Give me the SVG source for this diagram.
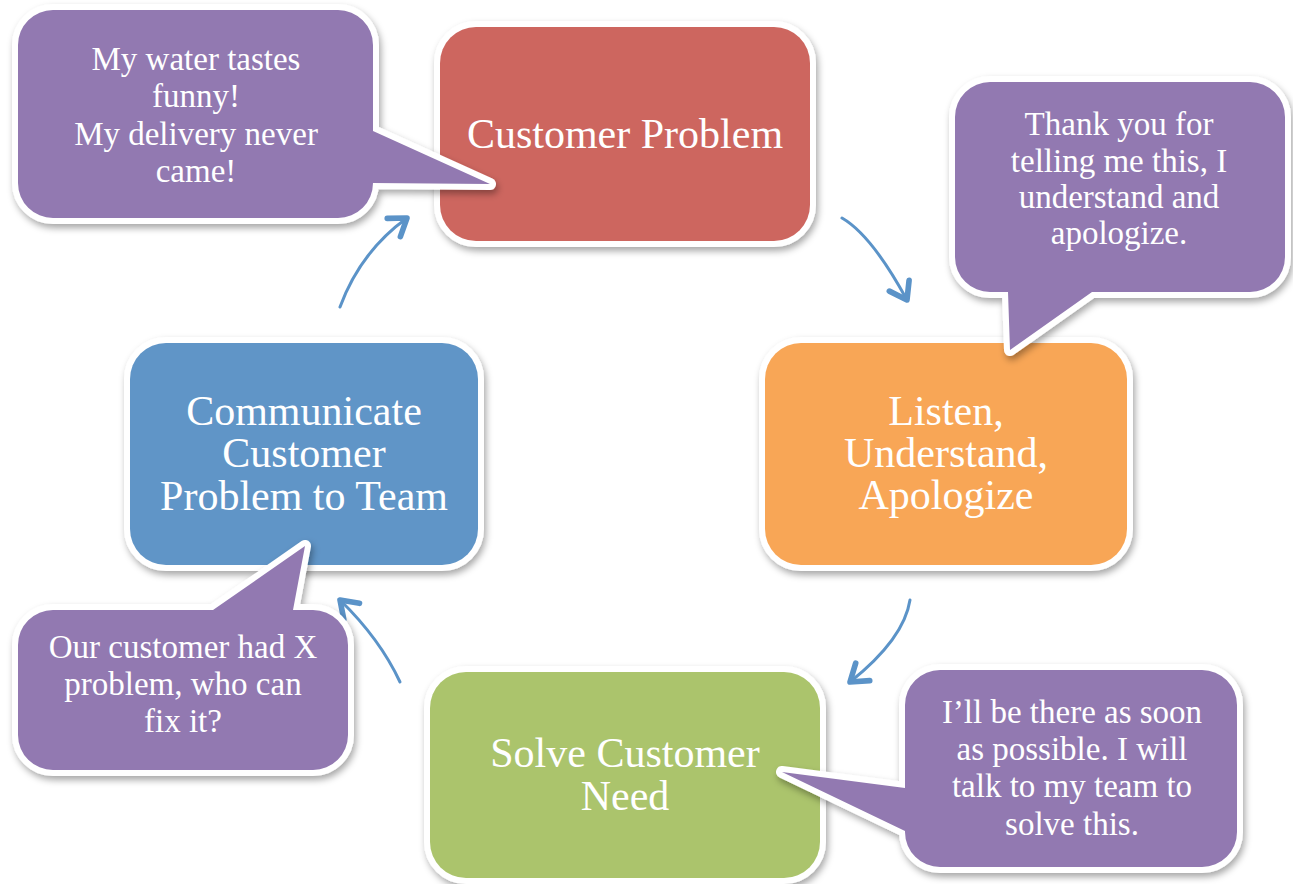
<svg xmlns="http://www.w3.org/2000/svg" width="1293" height="884" viewBox="0 0 1293 884">
  <defs>
    <filter id="shadow" x="-10%" y="-10%" width="125%" height="130%">
      <feDropShadow dx="2" dy="4" stdDeviation="3.5" flood-color="#000" flood-opacity="0.35"/>
    </filter>
    <marker id="chevron" markerUnits="userSpaceOnUse" markerWidth="30" markerHeight="30" viewBox="-16 -12 20 24" refX="0" refY="0" orient="auto">
      <path d="M-13,-9 L0,0 L-13,9" fill="none" stroke="#5B93C8" stroke-width="4.5" stroke-linecap="round" stroke-linejoin="round"/>
    </marker>
    <style>
      .box { stroke: #fff; stroke-width: 12; paint-order: stroke fill; filter: url(#shadow); }
      .red { fill: #CD665F; }
      .orange { fill: #F8A656; }
      .green { fill: #ABC46C; }
      .blue { fill: #6095C7; }
      .bubble { fill: #9279B1; stroke: #fff; stroke-width: 12; stroke-linejoin: round; paint-order: stroke fill; filter: url(#shadow); }
      .label { font-family: "Liberation Serif", "Times New Roman", serif; font-size: 42px; fill: #fff; text-anchor: middle; }
      .say { font-family: "Liberation Serif", "Times New Roman", serif; font-size: 33px; fill: #fff; text-anchor: middle; }
      .flow { fill: none; stroke: #5B93C8; stroke-width: 3; stroke-linecap: round; marker-end: url(#chevron); }
    </style>
  </defs>

  <rect width="1293" height="884" fill="#fff"/>

  <!-- cycle arrows -->
  <g id="connectors">
    <path class="flow" d="M842,218 Q871.5,235 907,300"/>
    <path class="flow" d="M910,600 Q904,639 850,682"/>
    <path class="flow" d="M400,682 Q380,639 340,600"/>
    <path class="flow" d="M340,307 Q360.5,251.5 407,218"/>
  </g>

  <!-- process steps -->
  <g id="customer-problem">
    <rect class="box red" x="440" y="27" width="370" height="214" rx="36"/>
    <text class="label" x="625" y="148">Customer Problem</text>
  </g>
  <g id="listen">
    <rect class="box orange" x="765" y="343" width="362" height="222" rx="36"/>
    <text class="label" x="946" y="425">Listen,</text>
    <text class="label" x="946" y="467">Understand,</text>
    <text class="label" x="946" y="509">Apologize</text>
  </g>
  <g id="solve">
    <rect class="box green" x="430" y="672" width="390" height="206" rx="36"/>
    <text class="label" x="625" y="767">Solve Customer</text>
    <text class="label" x="625" y="810">Need</text>
  </g>
  <g id="communicate">
    <rect class="box blue" x="130" y="343" width="348" height="222" rx="36"/>
    <text class="label" x="304" y="425">Communicate</text>
    <text class="label" x="304" y="467">Customer</text>
    <text class="label" x="304" y="510">Problem to Team</text>
  </g>

  <!-- speech bubbles -->
  <g id="bubble-complaint">
    <path class="bubble" d="M53,10 H338 A35,35 0 0 1 373,45 V131 L490,184 L373,183 A35,35 0 0 1 338,218 H53 A35,35 0 0 1 18,183 V45 A35,35 0 0 1 53,10 Z"/>
    <text class="say" x="196" y="70">My water tastes</text>
    <text class="say" x="196" y="107">funny!</text>
    <text class="say" x="196" y="145">My delivery never</text>
    <text class="say" x="196" y="182">came!</text>
  </g>
  <g id="bubble-apology">
    <path class="bubble" d="M990,82 H1250 A35,35 0 0 1 1285,117 V257 A35,35 0 0 1 1250,292 H1092 L1010,350 L1008,292 H990 A35,35 0 0 1 955,257 V117 A35,35 0 0 1 990,82 Z"/>
    <text class="say" x="1119" y="135">Thank you for</text>
    <text class="say" x="1119" y="172">telling me this, I</text>
    <text class="say" x="1119" y="208">understand and</text>
    <text class="say" x="1119" y="244">apologize.</text>
  </g>
  <g id="bubble-team">
    <path class="bubble" d="M53,610 H213 L305,546 L293,610 H313 A35,35 0 0 1 348,645 V735 A35,35 0 0 1 313,770 H53 A35,35 0 0 1 18,735 V645 A35,35 0 0 1 53,610 Z"/>
    <text class="say" x="183" y="658">Our customer had X</text>
    <text class="say" x="183" y="695">problem, who can</text>
    <text class="say" x="183" y="732">fix it?</text>
  </g>
  <g id="bubble-solve">
    <path class="bubble" d="M940,670 H1202 A35,35 0 0 1 1237,705 V832 A35,35 0 0 1 1202,867 H940 A35,35 0 0 1 905,832 V831 L782,772 L905,788 V705 A35,35 0 0 1 940,670 Z"/>
    <text class="say" x="1072" y="723">I’ll be there as soon</text>
    <text class="say" x="1072" y="760">as possible. I will</text>
    <text class="say" x="1072" y="797">talk to my team to</text>
    <text class="say" x="1072" y="835">solve this.</text>
  </g>
</svg>
